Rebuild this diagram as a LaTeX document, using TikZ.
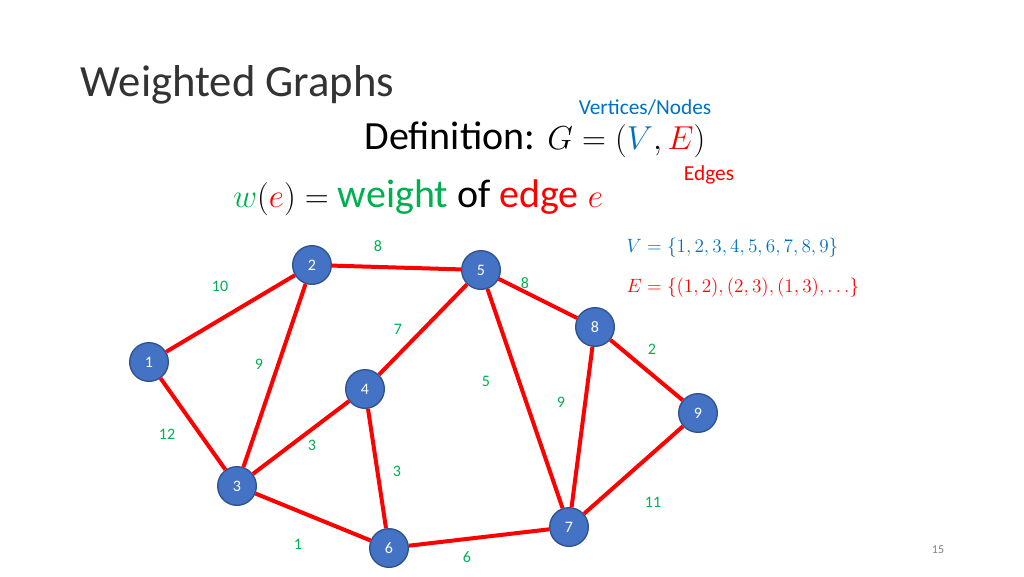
\documentclass[tikz,border=0pt]{standalone}
\usepackage{fontspec}
\setmainfont{Carlito}
\definecolor{nb}{HTML}{4472C4}
\definecolor{nbd}{HTML}{2F528F}
\definecolor{wg}{HTML}{00B050}
\definecolor{vb}{HTML}{0070C0}
\definecolor{er}{HTML}{FF0000}
\begin{document}
\begin{tikzpicture}[x=0.75pt,y=-0.75pt,
  vtx/.style={circle,fill=nb,draw=nbd,line width=1pt,minimum size=29pt,inner sep=0pt,text=white,font=\fontsize{12}{12}\selectfont},
  edg/.style={draw=er,line width=3pt},
  wt/.style={text=wg,font=\fontsize{12}{12}\selectfont}]
\useasboundingbox (0,0) rectangle (1024,576);
\node[anchor=west,font=\fontsize{33.5}{34}\selectfont,text=black!80] (title) at (76,85) {Weighted Graphs};
\node[font=\fontsize{30}{30}\selectfont] (def) at (535,140) {Definition: $G=(\textcolor{vb}{V},\textcolor{er}{E})$};
\node[text=vb,font=\fontsize{16}{16}\selectfont] (vn) at (645,108) {Vertices/Nodes};
\node[text=er,font=\fontsize{16}{16}\selectfont] (ed) at (709,175) {Edges};
\node[font=\fontsize{30}{30}\selectfont] (wdef) at (418,198) {$\textcolor{wg}{w}(\textcolor{er}{e})=$ \textcolor{wg}{weight} of \textcolor{er}{edge $e$}};
\node[anchor=west,text=vb,font=\fontsize{14}{14}\selectfont] (vset) at (622,248) {$V=\{1,2,3,4,5,6,7,8,9\}$};
\node[anchor=west,text=er,font=\fontsize{14}{14}\selectfont] (eset) at (622,288) {$E=\{(1,2),(2,3),(1,3),\dots\}$};
\node[text=gray,font=\fontsize{9}{9}\selectfont] (pg) at (938,550) {15};
\node[vtx] (n1) at (149,362) {1};
\node[vtx] (n2) at (312,265) {2};
\node[vtx] (n3) at (237,486) {3};
\node[vtx] (n4) at (365,389) {4};
\node[vtx] (n5) at (481,270) {5};
\node[vtx] (n6) at (389,548) {6};
\node[vtx] (n7) at (569,527) {7};
\node[vtx] (n8) at (595,327) {8};
\node[vtx] (n9) at (698,413) {9};
\foreach \a/\b in {n1/n2,n1/n3,n2/n3,n2/n5,n3/n4,n3/n6,n4/n5,n4/n6,n5/n7,n5/n8,n8/n7,n8/n9,n9/n7,n6/n7}
  \draw[edg] (\a) -- (\b);
\node[wt] (w1) at (378,246) {8};
\node[wt] (w2) at (220,286) {10};
\node[wt] (w3) at (525,283) {8};
\node[wt] (w4) at (398,329) {7};
\node[wt] (w5) at (652,349) {2};
\node[wt] (w6) at (259,364) {9};
\node[wt] (w7) at (486,381) {5};
\node[wt] (w8) at (561,402) {9};
\node[wt] (w9) at (167,434) {12};
\node[wt] (w10) at (312,445) {3};
\node[wt] (w11) at (397,471) {3};
\node[wt] (w12) at (653,502) {11};
\node[wt] (w13) at (298,544) {1};
\node[wt] (w14) at (467,557) {6};
\end{tikzpicture}
\end{document}
